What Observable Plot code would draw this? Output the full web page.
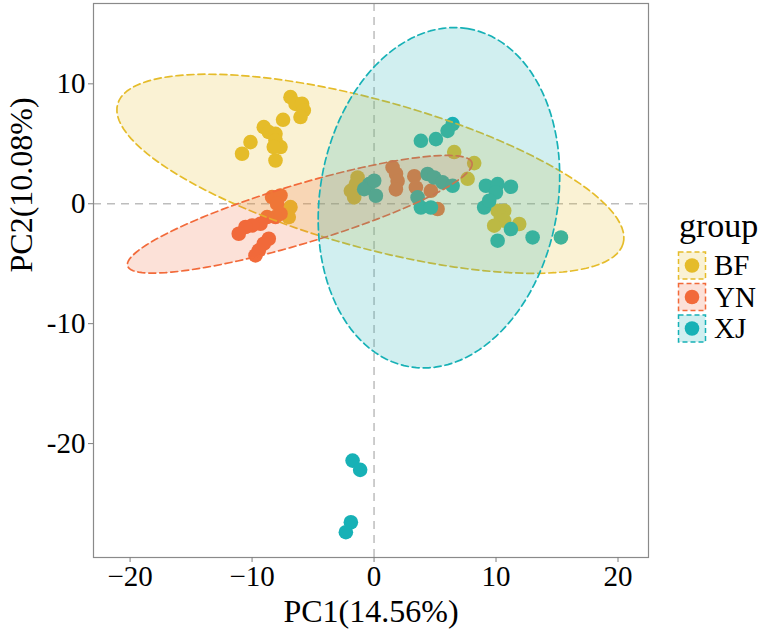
<!DOCTYPE html>
<html><head><meta charset="utf-8">
<script src="https://cdn.jsdelivr.net/npm/d3@7"></script>
<script src="https://cdn.jsdelivr.net/npm/@observablehq/plot@0.6"></script>
<style>
body{margin:0;background:#fff;font-family:"Liberation Serif","Times New Roman",serif;}
#wrap{position:relative;width:764px;height:633px;}
#legend{position:absolute;left:672px;top:205px;}
svg text{font-family:"Liberation Serif","Times New Roman",serif;}
</style></head><body>
<div id="wrap"><div id="chart"></div><div id="legend"></div></div>
<script>
// ---- data ----
const groups = ["BF", "YN", "XJ"];
const groupColors = ["#E5BC2A", "#F26A3A", "#17B1B6"];

const bfX = [-6.85,-6.44,-5.90,-5.76,-6.03,-7.46,-9.04,-8.63,-8.08,-8.08,-7.67,-8.22,-8.08,-10.13,-10.82,-6.85,-6.99,
             -1.35,-1.49,-1.90,-1.63, 6.57,8.21,7.67, 10.13,10.67,10.40,10.67,9.85,11.90];
const bfY = [8.89,8.33,8.33,7.78,7.23,7.00,6.39,5.98,5.83,5.28,4.73,4.73,3.61,5.14,4.17,-0.28,-1.11,
             2.19,1.64,1.08,0.53, 4.31,3.39,2.08, -0.58,-0.58,-1.14,-1.42,-1.83,-1.69];

const ynX = [-8.36,-7.67,-7.95,-7.67,-8.08,-8.77,-9.31,-10.00,-10.54,-11.09,-8.63,-9.04,-9.45,-9.72,
             1.52,1.80,1.93,1.79,3.30,3.43,4.66,5.21];
const ynY = [0.56,0.69,0.00,-0.83,-1.11,-1.11,-1.67,-1.81,-1.94,-2.50,-2.92,-3.33,-3.89,-4.31,
             3.03,2.50,1.90,1.20,2.30,1.36,1.08,-0.44];

const xjX = [6.44,6.03,5.07,3.84, 4.39,4.93,5.62,6.44, 3.57,3.84,4.66, -0.40,-0.81,0.15,0.01,
             9.17,10.13,11.22,9.99,9.03,9.44,11.22,10.13,13.00,15.32,
             -1.76,-1.14,-1.90,-2.31];
const xjY = [6.64,6.08,5.39,5.25, 2.48,2.19,1.78,1.50, 0.53,-0.31,-0.31, 1.64,1.22,0.67,1.92,
             1.50,1.64,1.42,0.94,-0.31,0.25,-2.11,-3.08,-2.81,-2.81,
             -21.42,-22.19,-26.56,-27.39];

// confidence ellipses (centre, semi-axes, rotation in degrees), one per group
const ellCx = [-0.30, -6.09, 5.32];
const ellCy = [2.50, -0.875, 0.50];
const ellA = [21.52, 14.76, 14.30];
const ellB = [6.15, 2.45, 9.75];
const ellAngle = [-15.7, 17.0, 80.5];

const xTicks = [-20, -10, 0, 10, 20];
const yTicks = [10, 0, -10, -20];
const xTitle = "PC1(14.56%)";
const yTitle = "PC2(10.08%)";
const legendTitle = "group";

// ---- build tables ----
const points = [];
[[bfX, bfY], [ynX, ynY], [xjX, xjY]].forEach(([xs, ys], gi) => {
  xs.forEach((x, i) => points.push({group: groups[gi], x, y: ys[i]}));
});
function ellipse(gi) {
  const th = ellAngle[gi] * Math.PI / 180, out = [];
  for (let k = 0; k <= 120; k++) {
    const t = 2 * Math.PI * k / 120;
    const u = ellA[gi] * Math.cos(t), v = ellB[gi] * Math.sin(t);
    out.push({x: ellCx[gi] + u * Math.cos(th) - v * Math.sin(th),
              y: ellCy[gi] + u * Math.sin(th) + v * Math.cos(th)});
  }
  return out;
}

const font = "Liberation Serif";
const plot = Plot.plot({
  width: 660, height: 633,
  marginLeft: 93, marginRight: 12, marginTop: 3, marginBottom: 76,
  style: {fontFamily: font, color: "#000", background: "#fff"},
  x: {domain: [-23.0, 22.5]},
  y: {domain: [-29.5, 16.7]},
  color: {domain: groups, range: groupColors},
  marks: [
    Plot.ruleX([0], {stroke: "#bdbdbd", strokeWidth: 1.5, strokeDasharray: "8,6"}),
    Plot.ruleY([0], {stroke: "#bdbdbd", strokeWidth: 1.5, strokeDasharray: "8,6"}),
    Plot.dot(points, {x: "x", y: "y", fill: "group", r: 7.3}),
    ...groups.map((g, gi) => Plot.line(ellipse(gi), {
      x: "x", y: "y", fill: groupColors[gi], fillOpacity: 0.2,
      stroke: groupColors[gi], strokeWidth: 1.7, strokeDasharray: "7,4"
    })),
    Plot.frame({stroke: "#8a8a8a", strokeWidth: 1.2}),
    Plot.axisX({ticks: xTicks, tickFormat: () => "", tickSize: 5, stroke: "#7f7f7f", label: null}),
    Plot.axisY({ticks: yTicks, tickFormat: () => "", tickSize: 5, stroke: "#7f7f7f", label: null}),
    Plot.text(xTicks, {x: d => d, frameAnchor: "bottom", lineAnchor: "top", dy: 8,
      text: d => d < 0 ? "\u2212" + Math.abs(d) : String(d),
      fontSize: 29, fontFamily: font, fill: "#000"}),
    Plot.text(yTicks, {y: d => d, frameAnchor: "left", textAnchor: "end", dx: -8,
      text: d => d < 0 ? "-" + Math.abs(d) : String(d),
      fontSize: 29, fontFamily: font, fill: "#000"}),
    Plot.text([xTitle], {frameAnchor: "bottom", dy: 64, fontSize: 32, fontFamily: font, fill: "#000", text: d => d}),
    Plot.text([yTitle], {frameAnchor: "left", dx: -72, dy: -8, rotate: -90, fontSize: 32, fontFamily: font, fill: "#000", text: d => d})
  ]
});
document.getElementById("chart").appendChild(plot);

// ---- legend ----
const ns = "http://www.w3.org/2000/svg";
const lg = document.createElementNS(ns, "svg");
lg.setAttribute("width", 92); lg.setAttribute("height", 150);
lg.style.fontFamily = font;
let html = `<text x="7" y="32" font-size="34" fill="#000">${legendTitle}</text>`;
groups.forEach((g, i) => {
  const top = 47 + i * 31.5;
  html += `<rect x="6.5" y="${top}" width="27" height="27" fill="${groupColors[i]}" fill-opacity="0.2" stroke="${groupColors[i]}" stroke-width="1.5" stroke-dasharray="5,3"/>`;
  html += `<circle cx="20" cy="${top + 13.5}" r="7.3" fill="${groupColors[i]}"/>`;
  html += `<text x="42" y="${top + 23}" font-size="29" fill="#000">${g}</text>`;
});
lg.innerHTML = html;
document.getElementById("legend").appendChild(lg);
</script>
</body></html>
